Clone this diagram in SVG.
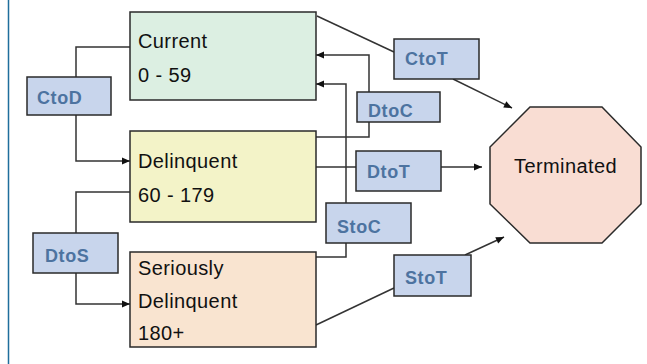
<svg xmlns="http://www.w3.org/2000/svg" width="647" height="364" viewBox="0 0 647 364">
<style>
.box{stroke:#2a2a2a;stroke-width:1.5}
.st{font-family:"Liberation Sans",Arial,sans-serif;font-size:20px;fill:#111;letter-spacing:0.4px}
.lb{fill:#c8d5ec;stroke:#2a2a2a;stroke-width:1.5}
.lt{font-family:"Liberation Sans",Arial,sans-serif;font-size:18px;font-weight:bold;fill:#4d73a0;letter-spacing:0.6px}
.c{fill:none;stroke:#333;stroke-width:1.5}
.a{marker-end:url(#arr)}
</style>
<defs>
<marker id="arr" markerUnits="userSpaceOnUse" markerWidth="10" markerHeight="10" viewBox="0 0 10 10" refX="9" refY="5" orient="auto">
<path d="M1,1.5 L9,5 L1,8.5 Z" fill="#111"/>
</marker>
</defs>
<rect width="647" height="364" fill="#fff"/>
<line x1="8.5" y1="0" x2="8.5" y2="364" stroke="#1f6e9c" stroke-width="1.5"/>
<g id="connectors">
<path class="c" d="M130,47 H76 V77"/>
<path class="c a" d="M76,115 V161 H130"/>
<path class="c" d="M317,16 L394,52"/>
<path class="c a" d="M453,79 L512,108"/>
<path class="c a" d="M369,92 V55 H316"/>
<path class="c" d="M369,122 V137 H316"/>
<path class="c a" d="M346,203 V84 H316"/>
<path class="c" d="M346,243 V257 H316"/>
<path class="c" d="M316,167 H356"/>
<path class="c a" d="M441,167 H482"/>
<path class="c" d="M130,192 H76 V233"/>
<path class="c a" d="M76,273 V304 H130"/>
<path class="c" d="M316,325 L394,288"/>
<path class="c a" d="M465,255 L504,237"/>
</g>
<g id="current">
<rect class="box" x="130" y="12" width="186" height="88" fill="#dcefe2"/>
<text class="st" x="138" y="48">Current</text>
<text class="st" x="138" y="82">0 - 59</text>
</g>
<g id="delinquent">
<rect class="box" x="130" y="131" width="186" height="91" fill="#f3f3c8"/>
<text class="st" x="138" y="168">Delinquent</text>
<text class="st" x="138" y="202">60 - 179</text>
</g>
<g id="seriously">
<rect class="box" x="130" y="252" width="186" height="95" fill="#f9e4d0"/>
<text class="st" x="138" y="275">Seriously</text>
<text class="st" x="138" y="308">Delinquent</text>
<text class="st" x="138" y="340">180+</text>
</g>
<g id="terminated">
<polygon class="box" points="530,107 602,107 641,147 641,204 602,243 530,243 490,204 490,147" fill="#f9ddd3"/>
<text class="st" x="565.5" y="173" text-anchor="middle">Terminated</text>
</g>
<g id="CtoD">
<rect class="lb" x="27" y="77" width="84" height="38"/>
<text class="lt" x="37" y="104">CtoD</text>
</g>
<g id="CtoT">
<rect class="lb" x="394" y="39" width="85" height="40"/>
<text class="lt" x="405" y="65">CtoT</text>
</g>
<g id="DtoC">
<rect class="lb" x="357" y="92" width="83" height="30"/>
<text class="lt" x="368" y="117">DtoC</text>
</g>
<g id="DtoT">
<rect class="lb" x="356" y="151" width="85" height="40"/>
<text class="lt" x="367" y="178">DtoT</text>
</g>
<g id="DtoS">
<rect class="lb" x="33" y="233" width="85" height="40"/>
<text class="lt" x="45" y="262">DtoS</text>
</g>
<g id="StoC">
<rect class="lb" x="326" y="203" width="85" height="40"/>
<text class="lt" x="337" y="233">StoC</text>
</g>
<g id="StoT">
<rect class="lb" x="394" y="255" width="77" height="41"/>
<text class="lt" x="405" y="284">StoT</text>
</g>
</svg>
